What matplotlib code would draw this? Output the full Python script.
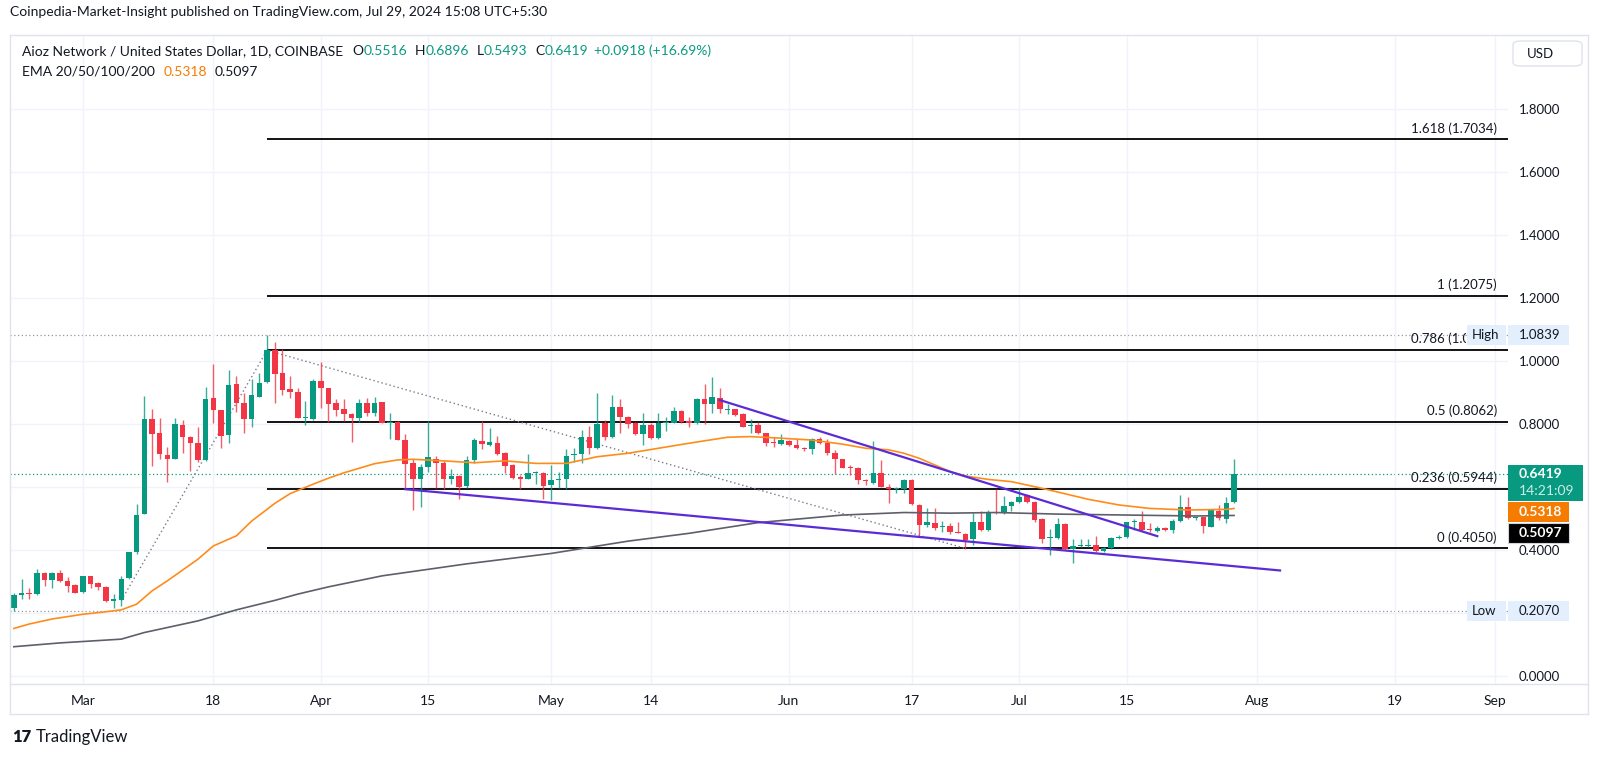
import numpy as np
import pandas as pd
import matplotlib
matplotlib.use("Agg")
import matplotlib.pyplot as plt
from matplotlib.patches import Rectangle, FancyBboxPatch
from matplotlib.transforms import blended_transform_factory, Bbox

plt.rcParams['font.family'] = ['Lato', 'DejaVu Sans']

W, H = 1600, 759
UP, DOWN = '#089981', '#f23645'
TXT = '#131722'
ORANGE = '#ff8c1a'
GRAY_EMA = '#5d606b'
PURPLE = '#5b2bd6'

# AIOZ/USD daily candles, 2024-02-21 .. 2024-07-29
dates = pd.date_range('2024-02-21', '2024-07-29', freq='D')
opens = [
    .215, .257, .262, .259, .327, .305, .327, .302, .290,
    .267, .317, .294, .283, .237, .241, .311, .394, .513, .815, .773, .702, .688, .797, .760, .739,
    .686, .884, .843, .764, .926, .868, .817, .887, .933, 1.034, .963, .910, .902, .818, .817,
    .937, .915, .866, .847, .831, .819, .868, .834, .870, .802, .806, .749, .675, .627, .662,
    .690, .677, .627, .635, .603, .685, .746, .733, .741, .707, .669, .632, .627, .646, .646,
    .606, .622, .624, .701, .705, .758, .725, .804, .758, .855, .821, .804, .767, .797, .755,
    .802, .804, .842, .808, .802, .878, .863, .881, .845, .847, .832, .793, .796, .770, .744, .737,
    .746, .733, .723, .720, .751, .739, .709, .688, .662, .659, .622, .614, .643, .601, .593,
    .593, .622, .543, .479, .485, .474, .476, .458, .451, .434, .490, .464, .522, .516, .540,
    .551, .575, .553, .497, .437, .439, .483, .402, .413, .413, .417, .397, .405, .437, .440,
    .489, .490, .466, .461, .471, .464, .491, .535, .501, .504, .474, .525, .500, .5516,
]
highs = [
    .263, .308, .278, .339, .329, .329, .337, .315, .291,
    .318, .317, .297, .286, .260, .318, .395, .545, .889, .849, .818, .727, .820, .812, .762,
    .792, .918, .989, .846, .973, .954, .899, .944, .963, 1.0839, 1.060, 1.037, .954, .915, .873, .942,
    .997, .915, .878, .880, .836, .880, .881, .885, .871, .836, .810, .767, .688, .674, .810,
    .699, .683, .658, .637, .699, .755, .810, .788, .762, .711, .672, .637, .704, .651, .648,
    .669, .649, .720, .723, .781, .794, .897, .813, .892, .878, .825, .806, .834, .802, .836,
    .821, .855, .845, .823, .882, .927, .948, .913, .864, .849, .834, .815, .806, .773, .760, .768,
    .749, .751, .726, .754, .758, .751, .718, .690, .670, .662, .624, .747, .686, .610, .601,
    .624, .624, .545, .532, .532, .493, .485, .490, .455, .516, .525, .527, .593, .571, .557,
    .596, .577, .556, .501, .466, .501, .485, .436, .434, .436, .444, .410, .442, .448, .490,
    .497, .525, .485, .476, .474, .497, .575, .567, .506, .506, .529, .543, .567, .6896,
]
lows = [
    .207, .246, .244, .257, .286, .278, .297, .267, .263,
    .265, .278, .274, .236, .217, .221, .308, .387, .513, .667, .690, .616, .688, .707, .651,
    .680, .683, .804, .724, .741, .838, .773, .792, .887, .931, .868, .891, .884, .818, .796, .813,
    .852, .806, .825, .810, .743, .807, .825, .825, .802, .751, .748, .593, .526, .535, .648,
    .598, .595, .608, .561, .598, .677, .720, .730, .701, .646, .627, .595, .625, .609, .561,
    .558, .596, .593, .680, .675, .705, .722, .749, .755, .770, .786, .765, .733, .751, .751,
    .778, .802, .802, .790, .799, .800, .834, .834, .831, .826, .790, .773, .768, .730, .726, .733,
    .730, .722, .715, .705, .737, .702, .641, .659, .638, .610, .606, .610, .599, .550, .580,
    .580, .543, .448, .472, .464, .458, .450, .453, .402, .416, .461, .461, .514, .514, .524,
    .548, .548, .490, .423, .384, .436, .400, .358, .409, .411, .394, .393, .402, .435, .438,
    .464, .461, .458, .456, .461, .455, .490, .497, .495, .453, .472, .495, .487, .5493,
]
closes = [
    .257, .262, .260, .327, .305, .327, .302, .286, .265,
    .317, .292, .283, .237, .246, .308, .395, .510, .815, .769, .704, .688, .801, .759, .739,
    .685, .880, .843, .762, .925, .868, .817, .893, .929, 1.034, .960, .908, .902, .820, .820, .935,
    .914, .862, .844, .831, .819, .868, .834, .866, .804, .806, .749, .674, .625, .662, .694,
    .675, .627, .635, .600, .685, .748, .736, .742, .704, .667, .630, .625, .646, .649, .603,
    .622, .625, .700, .705, .758, .723, .799, .758, .855, .821, .799, .767, .796, .755, .804,
    .806, .842, .806, .802, .878, .863, .885, .847, .849, .829, .792, .796, .770, .741, .739, .749,
    .733, .723, .720, .751, .739, .709, .688, .661, .659, .622, .619, .643, .601, .593, .598,
    .622, .545, .479, .490, .469, .477, .456, .455, .432, .490, .464, .519, .516, .540, .553,
    .567, .553, .495, .434, .440, .483, .402, .414, .416, .417, .397, .407, .438, .440, .488,
    .492, .464, .462, .471, .464, .493, .535, .501, .504, .476, .527, .501, .550, .6419,
]

# EMA lines
ema50_dates = ['2024-02-21', '2024-02-23', '2024-02-26', '2024-03-01', '2024-03-04', '2024-03-06',
               '2024-03-08', '2024-03-10', '2024-03-12', '2024-03-16', '2024-03-18', '2024-03-21',
               '2024-03-23', '2024-03-26', '2024-03-28', '2024-03-31', '2024-04-02', '2024-04-04',
               '2024-04-08', '2024-04-11', '2024-04-13', '2024-04-17', '2024-04-21', '2024-04-25',
               '2024-04-29', '2024-05-03', '2024-05-07', '2024-05-11', '2024-05-15', '2024-05-19',
               '2024-05-24', '2024-05-27', '2024-05-31', '2024-06-04', '2024-06-08', '2024-06-11',
               '2024-06-14', '2024-06-16', '2024-06-18', '2024-06-22', '2024-06-24', '2024-06-27',
               '2024-06-30', '2024-07-03', '2024-07-05', '2024-07-10', '2024-07-14', '2024-07-18',
               '2024-07-23', '2024-07-28', '2024-07-29']
ema50_vals = [.151, .165, .181, .196, .204, .210,
              .228, .270, .302, .371, .413, .445,
              .492, .548, .579, .609, .628, .645,
              .674, .686, .688, .683, .677, .683,
              .675, .675, .696, .707, .723, .739,
              .758, .760, .755, .749, .736, .723,
              .718, .707, .691, .649, .635, .624,
              .617, .601, .590, .561, .543, .532,
              .527, .529, .5318]
ema200_dates = ['2024-02-21', '2024-02-27', '2024-03-06', '2024-03-09', '2024-03-16', '2024-03-21',
                '2024-03-26', '2024-03-29', '2024-04-02', '2024-04-09', '2024-04-20', '2024-05-01',
                '2024-05-11', '2024-05-19', '2024-05-28', '2024-06-08', '2024-06-16', '2024-06-22',
                '2024-06-28', '2024-07-06', '2024-07-15', '2024-07-24', '2024-07-29']
ema200_vals = [.093, .105, .117, .138, .175, .210,
               .240, .260, .283, .318, .356, .389,
               .428, .453, .487, .511, .519, .517,
               .519, .514, .511, .508, .5097]

fib_levels = ['0', '0.236', '0.5', '0.786', '1', '1.618']
fib_prices = [0.4050, 0.5944, 0.8062, 1.0358, 1.2075, 1.7034]
fib_start = '2024-03-25'

zigzag_dates = ['2024-03-06', '2024-03-25', '2024-06-24']
zigzag_prices = [0.240, 1.034, 0.405]
upper_trend_dates = ['2024-05-23', '2024-07-19']
upper_trend_prices = [0.876, 0.444]
lower_trend_dates = ['2024-04-12', '2024-08-04']
lower_trend_prices = [0.593, 0.335]

high_price, low_price = 1.0839, 0.2070
last_price = 0.6419
ema50_last, ema200_last = 0.5318, 0.5097

tick_dates = ['2024-03-01', '2024-03-18', '2024-04-01', '2024-04-15', '2024-05-01', '2024-05-14',
              '2024-06-01', '2024-06-17', '2024-07-01', '2024-07-15', '2024-08-01', '2024-08-19',
              '2024-09-01']
tick_labels = ['Mar', '18', 'Apr', '15', 'May', '14', 'Jun', '17', 'Jul', '15', 'Aug', '19', 'Sep']
price_ticks = [0.0, 0.2, 0.4, 0.6, 0.8, 1.0, 1.2, 1.4, 1.6, 1.8]

fig = plt.figure(figsize=(W / 100, H / 100), dpi=100)
fig.patch.set_facecolor('white')
ax = fig.add_axes([10 / W, 75 / H, 1498 / W, 649 / H])

o, h, l, c = (np.array(a) for a in (opens, highs, lows, closes))
cols = np.where(c >= o, UP, DOWN)
ax.vlines(dates, l, h, colors=cols, lw=1.0, alpha=0.8, zorder=3)
ax.bar(dates, np.maximum(np.abs(c - o), 0.003), bottom=np.minimum(o, c), width=0.72,
       color=cols, lw=0, zorder=4)

ax.plot(pd.to_datetime(ema200_dates), ema200_vals, color=GRAY_EMA, lw=1.2, zorder=5)
ax.plot(pd.to_datetime(ema50_dates), ema50_vals, color=ORANGE, lw=1.2, zorder=5)

base = pd.Timestamp('2024-03-01')
x0, x1 = base - pd.Timedelta(days=9.5), base + pd.Timedelta(days=185.7)
ax.set_xlim(x0, x1)
ax.set_ylim(-0.0254, 2.035)

# fib extension
ax.hlines(fib_prices, pd.Timestamp(fib_start), x1, colors='black', lw=1.3, zorder=2)
for lv, p in zip(fib_levels, fib_prices):
    a = ax.annotate(f"{lv} ({p:.4f})", xy=(1, p), xycoords=('axes fraction', 'data'),
                    xytext=(-8, 3.5), textcoords='offset points', ha='right', va='bottom',
                    fontsize=9.5, color=TXT, zorder=2)
    if lv == '0.786':
        # hidden behind the "High" tag on the original
        a.set_clip_box(Bbox.from_extents(0, 0, 1466, H))
        a.set_clip_on(True)

ax.plot(pd.to_datetime(zigzag_dates), zigzag_prices, color='#787b86', lw=1.0,
        ls=(0, (1, 2)), zorder=2)
ax.plot(pd.to_datetime(upper_trend_dates), upper_trend_prices, color=PURPLE, lw=1.6, zorder=6)
ax.plot(pd.to_datetime(lower_trend_dates), lower_trend_prices, color=PURPLE, lw=1.6, zorder=6)

ax.axhline(high_price, color='#9598a1', lw=0.9, ls=(0, (1, 2)), zorder=1)
ax.axhline(low_price, color='#9598a1', lw=0.9, ls=(0, (1, 2)), zorder=1)
ax.axhline(last_price, color=UP, lw=0.9, ls=(0, (1, 2)), zorder=1)

ax.set_xticks(pd.to_datetime(tick_dates))
ax.set_xticklabels(tick_labels)
ax.set_yticks(price_ticks)
# 0.6000 sits under the last-price tag on the original
ax.set_yticklabels(['' if v == 0.6 else f"{v:.4f}" for v in price_ticks])
ax.yaxis.tick_right()
ax.tick_params(axis='y', length=0, pad=7.5, labelsize=9.5, labelcolor=TXT)
ax.tick_params(axis='x', length=0, pad=8, labelsize=10, labelcolor=TXT)
ax.grid(True, color='#f0f3fa', lw=1, zorder=0)
for s in ax.spines.values():
    s.set_visible(False)

# ---- price-scale tags (drawn on figure, positioned from data) ----
yt = blended_transform_factory(ax.transAxes, ax.transData)
def ypx(p):
    return yt.transform((1, p))[1]

def tag(xa, xb, yc, hh, fc, ec='none'):
    fig.add_artist(Rectangle((xa / W, (yc - hh / 2) / H), (xb - xa) / W, hh / H,
                             transform=fig.transFigure, fc=fc, ec=ec, lw=0.8, zorder=2))

TAGBLUE = '#e3effd'
for p, name in ((high_price, 'High'), (low_price, 'Low')):
    yc = ypx(p)
    tag(1467, 1506, yc, 20, TAGBLUE)
    tag(1508, 1569, yc, 20, TAGBLUE)
    fig.text(1472 / W, yc / H, name, fontsize=9.5, color=TXT, va='center', zorder=3)
    fig.text(1519 / W, yc / H, f"{p:.4f}", fontsize=9.5, color=TXT, va='center', zorder=3)

yc = ypx(last_price)
top = yc + 9
tag(1508, 1583, top - 18, 36, UP)
fig.text(1519 / W, yc / H, f"{last_price:.4f}", fontsize=10, color='white',
         fontweight='bold', va='center', zorder=3)
fig.text(1519 / W, (yc - 17) / H, "14:21:09", fontsize=10, color='#cdeee6',
         va='center', zorder=3)
bottom = top - 36
for p, fc in ((ema50_last, '#f57c00'), (ema200_last, '#000000')):
    yc = min(ypx(p), bottom - 1 - 10)
    tag(1508, 1569, yc, 20, fc, ec='#d1d4dc' if fc == '#000000' else 'none')
    fig.text(1519 / W, yc / H, f"{p:.4f}", fontsize=10, color='white', fontweight='bold',
             va='center', zorder=3)
    bottom = yc - 10

fig.add_artist(FancyBboxPatch((1513 / W, (H - 66) / H), 69 / W, 25 / H,
                              boxstyle='round,pad=0,rounding_size=0.005',
                              transform=fig.transFigure, fc='white', ec='#e0e3eb', lw=1))
fig.text(1527 / W, (H - 53.5) / H, "USD", fontsize=9.5, color=TXT, va='center')

# ---- pane borders ----
for ya in (35, 684, 714):
    fig.add_artist(plt.Line2D([10 / W, 1588 / W], [(H - ya) / H] * 2, color='#e0e3eb',
                              lw=1, transform=fig.transFigure, zorder=0.5))
for xa in (10, 1588):
    fig.add_artist(plt.Line2D([xa / W] * 2, [(H - 714) / H, (H - 35) / H], color='#e0e3eb',
                              lw=1, transform=fig.transFigure, zorder=0.5))

# ---- header ----
r = fig.canvas.get_renderer()
def chain(x, ytop, parts, size):
    for s, col, gap in parts:
        t = fig.text(x / W, 1 - ytop / H, s, color=col, fontsize=size, va='center')
        x = t.get_window_extent(renderer=r).x1 + gap

chain(10, 12, [("Coinpedia-Market-Insight published on TradingView.com, Jul 29, 2024 15:08 UTC+5:30",
                TXT, 0)], 10)
chain(22, 51, [("Aioz Network / United States Dollar, 1D, COINBASE", TXT, 9),
               ("O", TXT, 0), (f"{opens[-1]:.4f}", UP, 8),
               ("H", TXT, 0), (f"{highs[-1]:.4f}", UP, 8),
               ("L", TXT, 0), (f"{lows[-1]:.4f}", UP, 8),
               ("C", TXT, 0), (f"{closes[-1]:.4f}", UP, 6),
               ("+0.0918 (+16.69%)", UP, 0)], 10)
chain(22, 72, [("EMA 20/50/100/200", TXT, 9), (f"{ema50_last:.4f}", '#f57c00', 7),
               (f"{ema200_last:.4f}", TXT, 0)], 10)
chain(12, 737, [("17", TXT, 4)], 12)
fig.texts[-1].set_fontweight('heavy')
chain(36, 737, [("TradingView", TXT, 0)], 12)

fig.savefig('out.png', dpi=100)
